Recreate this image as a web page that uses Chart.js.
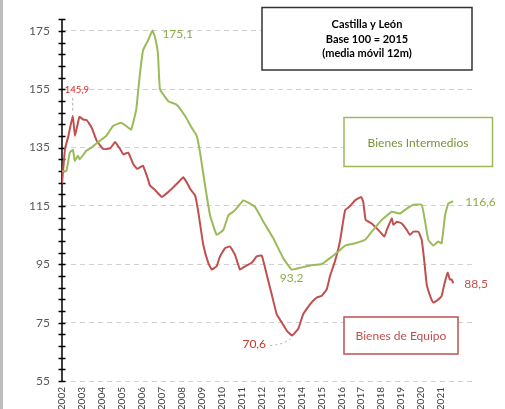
<!DOCTYPE html>
<html>
<head>
<meta charset="utf-8">
<script src="https://cdn.jsdelivr.net/npm/chart.js@4/dist/chart.umd.min.js"></script>
<style>
  html, body { margin: 0; padding: 0; background: #fff; }
  canvas { display: block; }
</style>
</head>
<body>
<canvas id="chart" width="505" height="409"></canvas>
<script>
// índices de producción industrial, Castilla y León (base 2015 = 100, media móvil 12m)
const greenYears = [2002.0, 2002.22, 2002.39, 2002.55, 2002.64, 2002.8, 2002.89, 2003.22, 2003.47, 2003.89,
  2004.22, 2004.56, 2004.97, 2005.22, 2005.47, 2005.72, 2005.89, 2006.06, 2006.31, 2006.53,
  2006.66, 2006.81, 2006.91, 2007.33, 2007.75, 2008.17, 2008.5, 2008.75, 2008.92, 2009.17,
  2009.42, 2009.75, 2010.09, 2010.34, 2010.67, 2011.09, 2011.42, 2011.67, 2011.92, 2012.09,
  2012.59, 2013.09, 2013.51, 2013.93, 2014.43, 2015.02, 2015.43, 2015.85, 2016.19, 2016.69,
  2017.19, 2017.6, 2018.02, 2018.53, 2018.94, 2019.28, 2019.61, 2020.03, 2020.2, 2020.36,
  2020.61, 2020.86, 2021.03, 2021.2, 2021.36, 2021.61];
const greenValues = [126.9, 127.0, 133.3, 134.2, 130.5, 132.2, 131.0, 133.9, 135.0, 137.3,
  139.0, 142.4, 143.5, 142.4, 141.2, 148.0, 159.3, 168.3, 171.7, 175.1,
  172.9, 167.2, 155.0, 150.9, 149.7, 145.8, 141.8, 139.0, 133.3, 122.0,
  111.8, 105.1, 106.8, 111.8, 113.5, 116.9, 115.8, 114.7, 111.8, 109.6,
  103.9, 97.1, 93.2, 93.8, 94.6, 95.1, 97.1, 99.4, 101.4, 102.2,
  103.4, 106.8, 110.2, 113.0, 112.4, 114.1, 115.4, 115.4, 109.6, 103.4,
  101.4, 102.8, 102.2, 111.8, 115.8, 116.6];

const redYears = [2002.0, 2002.15, 2002.32, 2002.54, 2002.65, 2002.87, 2003.07, 2003.24, 2003.49, 2003.74,
  2004.07, 2004.41, 2004.66, 2004.91, 2005.07, 2005.32, 2005.57, 2005.77, 2006.05, 2006.25,
  2006.41, 2006.66, 2007.0, 2007.33, 2007.58, 2007.83, 2008.08, 2008.25, 2008.42, 2008.67,
  2008.83, 2009.08, 2009.33, 2009.5, 2009.75, 2009.92, 2010.17, 2010.42, 2010.67, 2010.92,
  2011.17, 2011.51, 2011.76, 2012.01, 2012.26, 2012.51, 2012.76, 2013.01, 2013.26, 2013.53,
  2013.84, 2014.09, 2014.43, 2014.77, 2015.02, 2015.27, 2015.43, 2015.68, 2015.93, 2016.19,
  2016.44, 2016.69, 2016.99, 2017.1, 2017.22, 2017.52, 2017.85, 2018.16, 2018.28, 2018.53,
  2018.61, 2018.78, 2019.03, 2019.28, 2019.44, 2019.61, 2019.86, 2020.03, 2020.16, 2020.28,
  2020.45, 2020.61, 2020.78, 2021.03, 2021.16, 2021.33, 2021.44, 2021.53, 2021.61];
const redValues = [122.6, 134.5, 139.0, 145.9, 139.0, 145.5, 144.6, 144.4, 141.8, 137.3,
  134.5, 134.7, 136.9, 134.5, 132.7, 133.3, 129.4, 127.7, 128.8, 125.4,
  122.0, 120.5, 118.1, 119.8, 121.4, 123.1, 124.8, 123.1, 120.9, 118.6,
  113.0, 101.7, 95.5, 93.2, 94.3, 97.7, 100.5, 101.1, 98.3, 93.2,
  94.3, 95.5, 97.7, 98.0, 91.5, 84.7, 77.9, 75.1, 72.3, 70.6,
  72.9, 77.9, 81.3, 83.6, 84.2, 86.4, 90.9, 96.0, 102.8, 113.5,
  115.0, 116.9, 118.1, 116.4, 110.2, 109.0, 106.8, 104.5, 106.8, 110.7,
  108.5, 109.6, 109.0, 106.8, 105.1, 106.2, 106.2, 103.4, 96.0, 88.1,
  84.2, 81.9, 82.5, 84.2, 88.1, 92.1, 89.8, 89.8, 88.5];

const yearLabels = [2002, 2003, 2004, 2005, 2006, 2007, 2008, 2009, 2010, 2011,
  2012, 2013, 2014, 2015, 2016, 2017, 2018, 2019, 2020, 2021];
const yMajorTicks = [55, 75, 95, 115, 135, 155, 175];
const titleLines = ['Castilla y León', 'Base 100 = 2015', '(media móvil 12m)'];

const GREEN = '#9bbb59';
const RED = '#c0504d';
const FONT = 'Lato, "Open Sans", sans-serif';

const toPoints = (xs, ys) => xs.map((x, i) => ({ x: x, y: ys[i] }));

function valueLabel(ctx, chart, text, year, value, dx, dy, color, size, align) {
  const x = chart.scales.x.getPixelForValue(year) + dx;
  const y = chart.scales.y.getPixelForValue(value) + dy;
  ctx.font = size + 'px ' + FONT;
  ctx.fillStyle = color;
  ctx.textAlign = align;
  ctx.textBaseline = 'middle';
  ctx.fillText(text, x, y);
}

function box(ctx, x, y, w, h, stroke, lw) {
  ctx.fillStyle = '#fff';
  ctx.fillRect(x, y, w, h);
  ctx.strokeStyle = stroke;
  ctx.lineWidth = lw;
  ctx.strokeRect(x, y, w, h);
}

const decorations = {
  id: 'decorations',
  beforeDatasetsDraw(chart) {
    const ctx = chart.ctx;
    const y = chart.scales.y;
    const x0 = chart.chartArea.left;
    ctx.save();
    // barra gris del marco
    ctx.fillStyle = '#bdbdbd';
    ctx.fillRect(0, 0, 3, chart.height);
    // eje vertical con marcas
    ctx.strokeStyle = '#000';
    ctx.lineWidth = 1.5;
    ctx.beginPath();
    ctx.moveTo(x0, y.top);
    ctx.lineTo(x0, y.bottom);
    y.ticks.forEach(t => {
      const py = Math.round(y.getPixelForValue(t.value)) + 0.5;
      ctx.moveTo(x0 - 3.5, py);
      ctx.lineTo(x0 + 3.5, py);
    });
    ctx.stroke();
    ctx.restore();
  },
  afterDatasetsDraw(chart) {
    const ctx = chart.ctx;
    const sx = chart.scales.x, sy = chart.scales.y;
    ctx.save();

    // título
    box(ctx, 262, 7.5, 210, 62.5, '#333', 1.5);
    ctx.fillStyle = '#000';
    ctx.font = 'bold 11px ' + FONT;
    ctx.textAlign = 'center';
    ctx.textBaseline = 'middle';
    titleLines.forEach((t, i) => ctx.fillText(t, 367, 24.5 + i * 14.5));

    // leyendas en recuadro
    box(ctx, 344, 117.5, 148.5, 49, GREEN, 1.5);
    ctx.fillStyle = '#77933c';
    ctx.font = '12px ' + FONT;
    ctx.fillText('Bienes Intermedios', 418, 143);

    box(ctx, 344, 317, 114, 37, RED, 1.5);
    ctx.fillStyle = RED;
    ctx.fillText('Bienes de Equipo', 401, 336);

    // etiquetas de valores
    valueLabel(ctx, chart, '175,1', 2006.53, 175.1, 10, 4, '#8aac4a', 12, 'left');
    valueLabel(ctx, chart, '93,2', 2013.51, 93.2, 0, 9, '#8aac4a', 12, 'center');
    valueLabel(ctx, chart, '116,6', 2021.61, 116.6, 12, 1, '#8aac4a', 12, 'left');
    valueLabel(ctx, chart, '88,5', 2021.61, 88.5, 11, 1, RED, 12, 'left');
    valueLabel(ctx, chart, '70,6', 2013.53, 70.6, -26, 9, '#c0392b', 12, 'right');
    valueLabel(ctx, chart, '145,9', 2002.54, 145.9, -8, -26, '#d42a2a', 9.5, 'left');

    // líneas guía
    ctx.strokeStyle = '#b0b0b0';
    ctx.lineWidth = 1;
    ctx.setLineDash([3, 2]);
    const px = sx.getPixelForValue(2002.54), py = sy.getPixelForValue(145.9);
    ctx.beginPath();
    ctx.moveTo(px, py - 18);
    ctx.lineTo(px, py - 3);
    ctx.stroke();

    ctx.setLineDash([2, 3]);
    const mx = sx.getPixelForValue(2013.53), my = sy.getPixelForValue(70.6);
    ctx.beginPath();
    ctx.moveTo(mx - 22, my + 10);
    ctx.quadraticCurveTo(mx - 8, my + 9, mx - 1, my + 3);
    ctx.stroke();
    ctx.restore();
  }
};

const ctx = document.getElementById('chart').getContext('2d');
const chart = new Chart(ctx, {
  type: 'line',
  data: {
    datasets: [{
      label: 'Bienes Intermedios',
      data: toPoints(greenYears, greenValues),
      borderColor: GREEN,
      borderWidth: 2,
      pointRadius: 0,
      tension: 0.1
    }, {
      label: 'Bienes de Equipo',
      data: toPoints(redYears, redValues),
      borderColor: RED,
      borderWidth: 2,
      pointRadius: 0,
      tension: 0.1
    }]
  },
  options: {
    responsive: false,
    animation: false,
    layout: { padding: { top: 15, right: 33, left: 0, bottom: 0 } },
    plugins: {
      legend: { display: false },
      tooltip: { enabled: false }
    },
    scales: {
      x: {
        type: 'linear',
        min: 2002,
        max: 2022.55,
        afterBuildTicks: s => { s.ticks = yearLabels.map(v => ({ value: v })); },
        afterFit: s => { s.height = 28; },
        grid: { display: false, drawTicks: false },
        border: { display: false },
        ticks: {
          autoSkip: false,
          minRotation: 90,
          maxRotation: 90,
          padding: 6,
          color: '#404040',
          font: { family: FONT, size: 10 },
          callback: v => String(v)
        }
      },
      y: {
        min: 55,
        max: 179,
        afterBuildTicks: s => {
          const t = [];
          for (let v = 55; v <= 179; v += 4) t.push({ value: v });
          s.ticks = t;
        },
        afterFit: s => { s.width = 62; },
        grid: {
          drawTicks: false,
          lineWidth: 1,
          color: c => (c.tick && yMajorTicks.includes(c.tick.value)) ? '#d0d0d0' : 'rgba(0,0,0,0)'
        },
        border: { display: false, dash: [5, 4] },
        ticks: {
          autoSkip: false,
          padding: 12,
          color: '#595959',
          font: { family: FONT, size: 12 },
          callback: v => yMajorTicks.includes(v) ? String(v) : ''
        }
      }
    }
  },
  plugins: [decorations]
});
</script>
</body>
</html>
